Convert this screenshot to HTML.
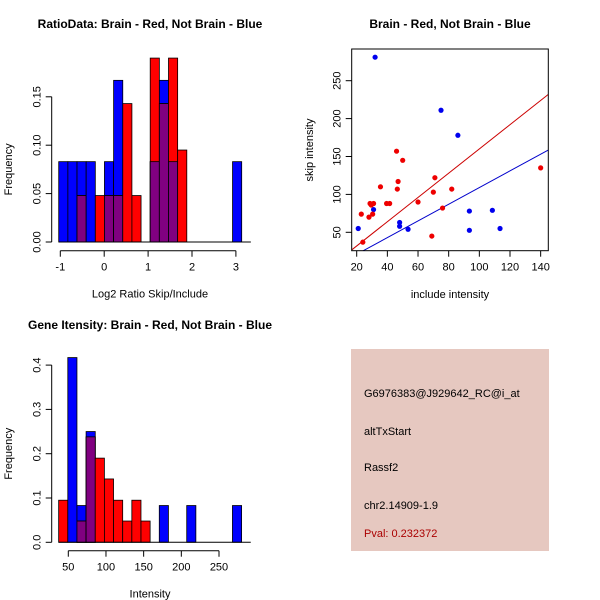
<!DOCTYPE html>
<html><head><meta charset="utf-8"><style>
body{margin:0;background:#fff;}
svg{display:block;font-family:"Liberation Sans",sans-serif;}
</style></head><body>
<svg id="c" width="600" height="600" viewBox="0 0 600 600"></svg>
<script>
// ---- data ----
const ratioBlue = [0.083,0.083,0.083,0.083,0,0.083,0.167,0,0,0,0.083,0.167,0.083,0,0,0,0,0,0,0.083];
const ratioRed  = [0,0,0.048,0,0.048,0.048,0.048,0.143,0.048,0,0.190,0.143,0.190,0.095,0,0,0,0,0,0];
const ratioXTicks = [-1,0,1,2,3];
const ratioYTicks = [0,0.05,0.10,0.15];
const ratioYLabels = ["0.00","0.05","0.10","0.15"];
const ratioBinStart = -1.036, ratioBinWidth = 0.2084;

const intBlue = [0,0.417,0.083,0.25,0,0,0,0,0,0,0,0.083,0,0,0.083,0,0,0,0,0.083];
const intRed  = [0.095,0,0.048,0.238,0.190,0.143,0.095,0.048,0.095,0.048,0,0,0,0,0,0,0,0,0,0];
const intXTicks = [50,100,150,200,250];
const intYTicks = [0,0.1,0.2,0.3,0.4];
const intYLabels = ["0.0","0.1","0.2","0.3","0.4"];
const intBinStart = 37.2, intBinWidth = 12.14;

const blueX = [32,75,86,21,31,48,48,53.5,93.5,93.5,108.5,113.5];
const blueY = [281,211,178,55,80,63,58,54,78,52.6,79,55];
const redX = [46,50,35.5,47,46.5,71,70,82,60,39.5,41.5,28.7,29.5,23,30.4,28,24,69,76,140,31];
const redY = [157,145,110,117,107,122,103,107,90,88,88,88,86,74,74,70,37,45,82,135,88];
const redSlope = 1.6, redIntercept = 0;
const blueSlope = 1.1, blueIntercept = -1;
const scXTicks = [20,40,60,80,100,120,140];
const scYTicks = [50,100,150,200,250];

const NS="http://www.w3.org/2000/svg";
const svg=document.getElementById('c');
function el(tag,attrs,parent){const e=document.createElementNS(NS,tag);for(const k in attrs)e.setAttribute(k,attrs[k]);(parent||svg).appendChild(e);return e;}
function txt(s,x,y,attrs){const t=el('text',Object.assign({x:x,y:y,'font-size':11,'text-anchor':'middle',fill:'#000'},attrs||{}));t.textContent=s;return t;}

function hist(name,blue,red,bs,bw,xT,yT,yL,xfn,yfn,yAxisX,xAxisY,title,xlab,titleY){
  const g=el('g',{});
  
  
  const base=yfn(0);
  for(let i=0;i<blue.length;i++){
    const x0=xfn(bs+i*bw),x1=xfn(bs+(i+1)*bw);
    const b=blue[i],r=red[i];
    const draw=(v,col,nm)=>{if(v<=0)return;const rc=el('rect',{x:x0,y:yfn(v),width:x1-x0,height:base-yfn(v),fill:col,stroke:'#000','stroke-width':0.8},g);
      
      };
    draw(b,'#0000ff','bar-blue-'+i);
    draw(r,'#ff0000','bar-red-'+i);
    draw(Math.min(b,r),'#800080','bar-overlap-'+i);
  }
  el('line',{x1:xfn(bs),y1:base,x2:xfn(bs+21*bw),y2:base,stroke:'#000'},g);
  el('line',{x1:yAxisX,y1:yfn(yT[0]),x2:yAxisX,y2:yfn(yT[yT.length-1]),stroke:'#000'},g);
  yT.forEach((v,i)=>{el('line',{x1:yAxisX-6,y1:yfn(v),x2:yAxisX,y2:yfn(v),stroke:'#000'},g);
    g.appendChild(txt(yL[i],yAxisX-11,yfn(v),{transform:`rotate(-90 ${yAxisX-11} ${yfn(v)})`}));});
  el('line',{x1:xfn(xT[0]),y1:xAxisY,x2:xfn(xT[xT.length-1]),y2:xAxisY,stroke:'#000'},g);
  xT.forEach(v=>{el('line',{x1:xfn(v),y1:xAxisY,x2:xfn(v),y2:xAxisY+6,stroke:'#000'},g);g.appendChild(txt(String(v),xfn(v),xAxisY+20));});
  const tt=txt(title,150,titleY,{'font-weight':'bold','font-size':12});
  
  const xl=txt(xlab,150,xAxisY+47);
  const my=(base+yfn(yT[yT.length-1]))/2;
  const yl=txt('Frequency',12,my,{transform:`rotate(-90 12 ${my})`});
  
}

hist('ratio-histogram',ratioBlue,ratioRed,ratioBinStart,ratioBinWidth,ratioXTicks,ratioYTicks,ratioYLabels,
  v=>60.3+(v+1)*43.9, v=>242-v*968, 51.7,250.7,'RatioData: Brain - Red, Not Brain - Blue','Log2 Ratio Skip/Include',28);
hist('intensity-histogram',intBlue,intRed,intBinStart,intBinWidth,intXTicks,intYTicks,intYLabels,
  v=>68.3+(v-50)*0.7535, v=>542.3-v*443, 51.7,550.7,'Gene Itensity: Brain - Red, Not Brain - Blue','Intensity',329);

// scatter
const sx=v=>356.7+(v-20)*1.533, sy=v=>232.3-(v-50)*0.758;
const L=351.7,R=548.3,T=49,B=250.7;
const sg=el('g',{});


const cp=el('clipPath',{id:'clp'},sg);
el('rect',{x:L,y:T,width:R-L,height:B-T},cp);
const inner=el('g',{'clip-path':'url(#clp)'},sg);
function line(sl,ic,col,nm){const xa=0,xb=200;const l=el('line',{x1:sx(xa),y1:sy(sl*xa+ic),x2:sx(xb),y2:sy(sl*xb+ic),stroke:col,'stroke-width':1},inner);
  }
line(redSlope,redIntercept,'#cc0000','red-fit-line');
line(blueSlope,blueIntercept,'#0000cc','blue-fit-line');
blueX.forEach((x,i)=>{const c=el('circle',{cx:sx(x),cy:sy(blueY[i]),r:2.6,fill:'#0000ee'},inner);
  });
redX.forEach((x,i)=>{const c=el('circle',{cx:sx(x),cy:sy(redY[i]),r:2.6,fill:'#ee0000'},inner);
  });
el('rect',{x:L,y:T,width:R-L,height:B-T,fill:'none',stroke:'#000'},sg);
scXTicks.forEach(v=>{el('line',{x1:sx(v),y1:B,x2:sx(v),y2:B+6,stroke:'#000'},sg);sg.appendChild(txt(String(v),sx(v),B+20));});
scYTicks.forEach(v=>{el('line',{x1:L-6,y1:sy(v),x2:L,y2:sy(v),stroke:'#000'},sg);sg.appendChild(txt(String(v),L-11,sy(v),{transform:`rotate(-90 ${L-11} ${sy(v)})`}));});
const st=txt('Brain - Red, Not Brain - Blue',450,28,{'font-weight':'bold','font-size':12});
const sxl=txt('include intensity',450,298);
const syl=txt('skip intensity',313,150,{transform:'rotate(-90 313 150)'});
</script>
<svg style="position:absolute;left:0;top:0" width="600" height="600">
<rect x="351" y="349" width="198" height="202" fill="#e6c8c0"/>
<g font-family="Liberation Sans, sans-serif" font-size="11" fill="#000">
<text x="364" y="397">G6976383@J929642_RC@i_at</text>
<text x="364" y="435">altTxStart</text>
<text x="364" y="471">Rassf2</text>
<text x="364" y="509">chr2.14909-1.9</text>
<text x="364" y="537" fill="#aa0000">Pval: 0.232372</text>
</g></svg>
</body></html>
